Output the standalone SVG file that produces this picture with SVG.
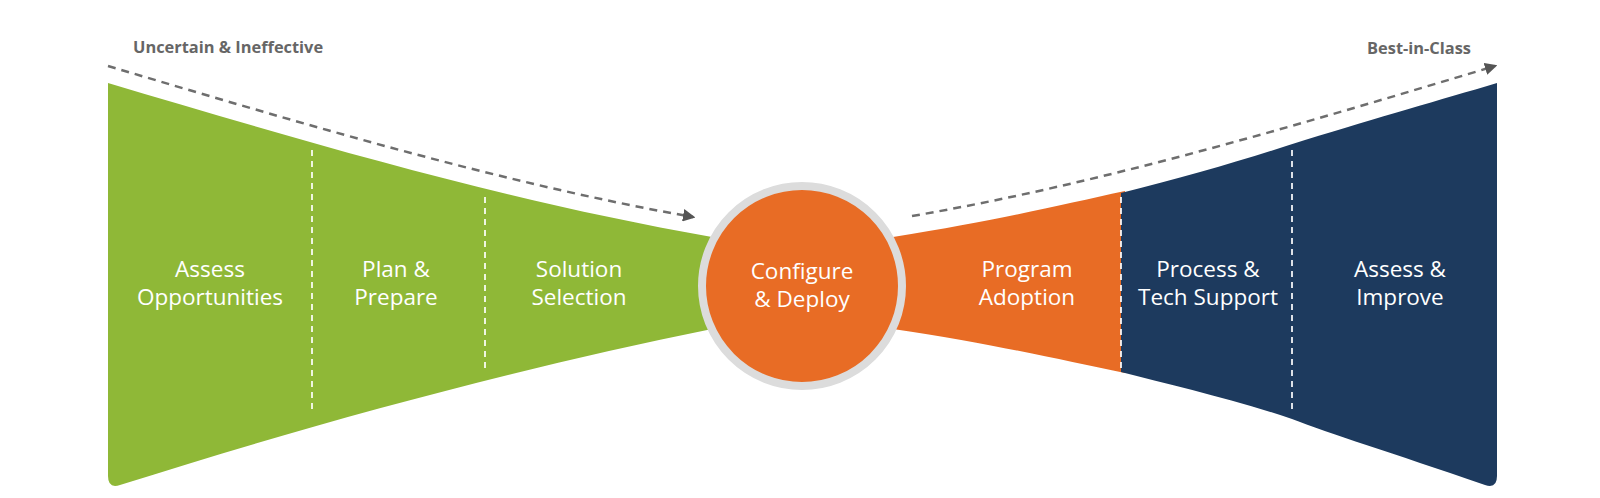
<svg xmlns="http://www.w3.org/2000/svg" width="1600" height="498" viewBox="0 0 1600 498">
<defs>
<style>
.lbl{font-family:"Open Sans",Lato,"Liberation Sans",sans-serif;font-size:22.5px;fill:#ffffff;text-anchor:middle}
.cap{font-family:"Open Sans",Lato,"Liberation Sans",sans-serif;font-size:16.4px;font-weight:bold;fill:#666666}
.div{stroke:#ffffff;stroke-width:2;stroke-dasharray:6 5;fill:none;opacity:0.85}
.flow{stroke:#6e6e6e;stroke-width:2.5;stroke-dasharray:8 6;fill:none}
</style>
<marker id="ah" viewBox="0 0 10 10" refX="8" refY="5" markerWidth="5" markerHeight="5" orient="auto" markerUnits="strokeWidth">
<path d="M0,0 L10,5 L0,10 z" fill="#555555"/>
</marker>
</defs>
<rect width="1600" height="498" fill="#ffffff"/>
<g id="left-funnel">
<path d="M108,83 C300,140 500,200 712,237 L712,329 C500,372 300,428 120,485 Q108,489 108,476 Z" fill="#8fb837"/>
</g>
<g id="right-orange">
<path d="M893,237 C1000,220 1060,205 1125,191 L1125,373 C1060,360 1000,345 893,329 Z" fill="#e86c25"/>
</g>
<g id="right-navy">
<path d="M1121,193 C1190,176 1250,158 1305,140 C1380,117 1440,100 1497,83 L1497,476 Q1497,489 1485,485 C1390,452 1330,434 1292,419 C1230,398 1170,385 1121,372 Z" fill="#1d3a5e"/>
</g>
<g id="dividers">
<line class="div" x1="312" y1="150" x2="312" y2="412"/>
<line class="div" x1="485" y1="197" x2="485" y2="368"/>
<line class="div" x1="1121" y1="197" x2="1121" y2="368"/>
<line class="div" x1="1292" y1="150" x2="1292" y2="412"/>
</g>
<g id="center-circle">
<circle cx="802" cy="286" r="100" fill="#e86c25" stroke="#dcdcdc" stroke-width="8"/>
<text class="lbl" x="802" y="279">Configure</text>
<text class="lbl" x="802" y="307">&amp; Deploy</text>
</g>
<g id="connectors">
<path class="flow" d="M108,66 C300,123 500,183 693,217" marker-end="url(#ah)"/>
<path class="flow" d="M912,216 C1105,183 1305,123 1495,66" marker-end="url(#ah)"/>
</g>
<g id="caption-left"><text class="cap" x="133" y="53">Uncertain &amp; Ineffective</text></g>
<g id="caption-right"><text class="cap" x="1471" y="54" text-anchor="end">Best-in-Class</text></g>
<g id="n-assess"><text class="lbl" x="210" y="277">Assess</text><text class="lbl" x="210" y="305">Opportunities</text></g>
<g id="n-plan"><text class="lbl" x="396" y="277">Plan &amp;</text><text class="lbl" x="396" y="305">Prepare</text></g>
<g id="n-solution"><text class="lbl" x="579" y="277">Solution</text><text class="lbl" x="579" y="305">Selection</text></g>
<g id="n-program"><text class="lbl" x="1027" y="277">Program</text><text class="lbl" x="1027" y="305">Adoption</text></g>
<g id="n-process"><text class="lbl" x="1208" y="277">Process &amp;</text><text class="lbl" x="1208" y="305">Tech Support</text></g>
<g id="n-improve"><text class="lbl" x="1400" y="277">Assess &amp;</text><text class="lbl" x="1400" y="305">Improve</text></g>
</svg>
